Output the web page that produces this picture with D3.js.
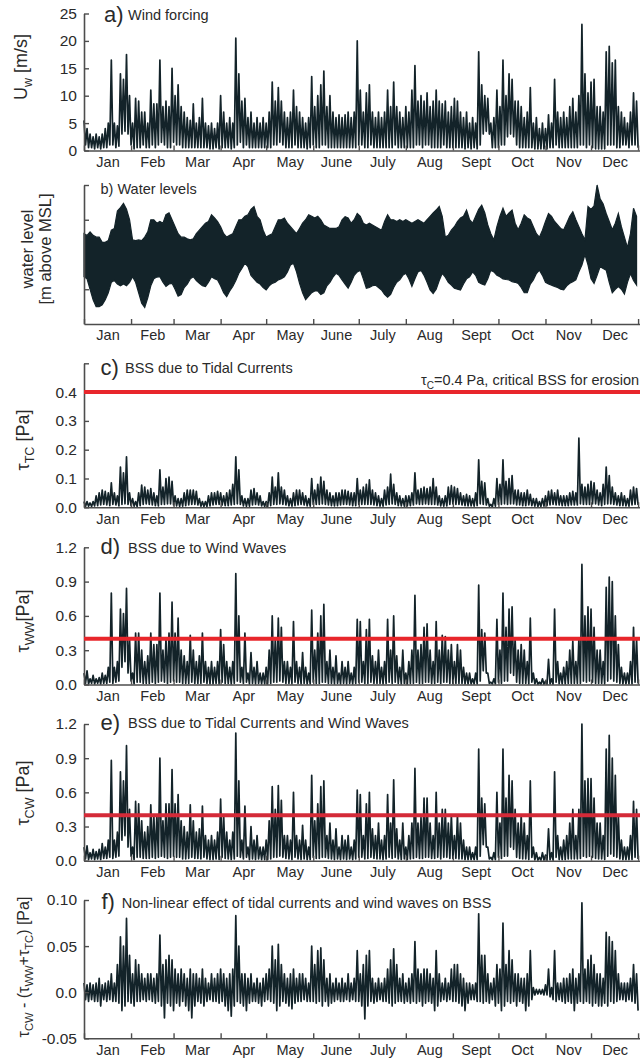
<!DOCTYPE html>
<html><head><meta charset="utf-8">
<script src="https://cdn.jsdelivr.net/npm/d3@7"></script>
<style>
body{margin:0;background:#fff}
svg{display:block}
text{font-family:"Liberation Sans",Arial,Helvetica,sans-serif}
</style>
</head><body>
<svg id="chart" width="640" height="1064"></svg>
<script>
// ---------- categories / ticks ----------
const monthStarts=[0,31,59,90,120,151,181,212,243,273,304,334,365];
const monthLabels=["Jan","Feb","Mar","Apr","May","June","July","Aug","Sept","Oct","Nov","Dec"];
const windTicks=[0,5,10,15,20,25];
const windTickLabels=["0","5","10","15","20","25"];
const waterTicks=[-1,1,2];
const tcTicks=[0,0.1,0.2,0.3,0.4,0.5];
const tcTickLabels=["0.0","0.1","0.2","0.3","0.4",""];
const wwTicks=[0,0.3,0.6,0.9,1.2];
const wwTickLabels=["0.0","0.3","0.6","0.9","1.2"];
const nlTicks=[-0.05,0,0.05,0.1];
const nlTickLabels=["-0.05","0.0","0.05","0.10"];
const criticalBSS=0.4;

// ---------- series (2-day bins: upper / lower values) ----------
const windHi=[5.5,4,3,2.5,3,2.5,3,4,5,16.5,
5,4.5,14,13,17.5,10,5,9.5,9,7,
7,5,11,8.5,8.5,16.5,8,9,8,15,
10,12,8,7,6,5.5,8.5,5,6,9.5,
5,4.5,5,4,5,10,7,5,6,5,
20.5,14,9,9.5,6,7,5,6,5,6,
5,7,12.5,9,11.5,9,7,6,7,11,
8,7,6,5,6,13.5,8,10,12,14.5,
8,10,7,6,6.5,6,6.5,7,6,7,
20,11,7,10.5,12,7,6,7,6,7,
11,8,12.5,8,7,6,8,7,11,15.5,
9,10,9,10.5,8,9,11,9,8.5,9,
7,8,9.5,9,7,6,7,5,6,5,
18,12,10,9.5,5,6,11,8,16.5,10,
14,13,9,9,8,6,7,11.5,5,6,
4,5,4,6.5,5,13,7,6,7,6,
8,9.5,7,10,23,14,10.5,12.5,13,8,
8,7,18,19,16,16.5,8,7,6,5,
7,10.5,9];
const windLo=[1,0.5,0.5,0.3,0.5,0.3,0.5,0.5,1,1,
0.5,0.8,3,3.5,3,1,0.3,0.5,0.5,1,
0.5,0.5,1,0.5,1,1.5,1,0.5,0.5,1.5,
1,1,0.5,0.5,0.5,0.5,0.5,0.5,0.5,0.5,
0.5,0.3,0.3,0.5,0.3,0.5,0.5,0.5,0.3,0.5,
1,1.5,0.5,1,0.5,0.5,0.5,0.5,0.5,0.5,
0.5,0.5,1,1,1.5,1,0.5,0.5,0.5,1,
0.5,0.5,0.5,0.3,0.5,1,0.5,0.5,1,1,
0.5,0.5,0.5,0.5,0.5,0.5,0.5,0.5,0.5,0.5,
1,1,0.5,0.5,1,0.5,0.5,0.5,0.5,0.5,
0.5,0.5,1,0.5,0.5,0.5,0.5,0.5,0.5,1,
1,0.5,1,1,0.5,0.5,0.5,0.5,1,0.5,
0.5,0.5,0.5,0.5,0.5,0.3,0.5,0.3,0.5,0.3,
1,3,3.5,3,0.5,0.5,0.5,1,1,2.5,
3,2.5,1,0.5,0.5,0.5,0.5,0.5,0.3,0.3,
0.3,0.3,0.3,0.5,0.5,1,0.5,0.5,0.5,0.5,
0.5,0.5,0.5,1,1,0.5,1,0.5,0.3,0.3,
0.3,0.3,1,1,1,0.5,0.5,1,1,0.5,
1,1,0.5];

const waterHi=[0.6,0.55,0.65,0.55,0.5,0.5,0.35,0.35,0.4,0.7,
0.75,1.25,1.35,1.47,1.3,1.0,0.42,0.4,0.42,0.4,
0.5,0.65,1.0,1.0,0.9,0.95,0.9,1.15,1.2,1.0,
0.8,0.6,0.5,0.5,0.45,0.42,0.45,0.6,0.7,0.8,
0.9,0.95,1.14,1.05,0.95,0.8,0.6,0.5,0.55,0.6,
0.8,1.0,1.0,1.1,1.14,1.3,1.38,1.1,1.0,0.7,
0.5,0.55,0.6,0.8,1.0,1.0,1.05,0.9,0.8,0.7,
0.6,0.75,0.9,1.0,1.14,1.1,1.05,1.1,1.0,0.85,
0.8,0.75,0.75,0.75,0.8,1.0,1.09,1.05,0.9,1.0,
1.18,1.1,0.9,0.85,0.9,0.85,0.8,0.75,0.7,0.95,
1.14,1.0,1.0,0.95,1.0,0.95,1.0,0.95,0.9,0.95,
1.0,0.95,0.9,1.0,1.1,1.2,1.28,1.38,1.1,0.5,
0.55,0.7,0.8,0.95,1.05,1.1,1.28,1.0,0.9,1.1,
1.3,1.42,1.2,0.85,0.6,0.42,0.8,1.1,1.33,1.1,
1.2,1.28,0.9,0.71,0.9,1.14,1.05,1.0,0.8,0.6,
0.5,0.7,0.95,1.18,1.1,0.95,0.85,0.75,0.71,0.9,
1.1,1.23,1.0,0.8,0.6,0.42,1.38,1.3,1.4,2.0,
1.6,1.45,1.18,0.95,0.71,0.9,1.18,0.8,0.5,0.2,
0.6,1.33,1.1];
const waterLo=[-0.64,-0.7,-1.0,-1.3,-1.5,-1.5,-1.45,-1.3,-1.1,-0.8,
-0.75,-0.85,-0.9,-0.85,-0.9,-0.8,-0.64,-0.8,-1.1,-1.4,
-1.52,-1.25,-0.9,-0.7,-0.65,-0.64,-0.8,-0.92,-0.85,-0.83,
-1.0,-1.2,-1.15,-0.95,-0.85,-0.7,-0.64,-0.75,-0.83,-0.9,
-0.92,-0.8,-0.64,-0.7,-0.73,-0.9,-1.1,-1.21,-1.05,-0.92,
-0.75,-0.54,-0.4,-0.25,-0.35,-0.6,-0.7,-0.8,-0.85,-0.95,
-1.02,-0.9,-0.83,-0.8,-0.73,-0.7,-0.64,-0.5,-0.3,-0.25,
-0.5,-0.83,-1.1,-1.3,-1.2,-1.1,-1.05,-1.05,-1.15,-1.1,
-0.9,-0.8,-0.65,-0.54,-0.6,-0.73,-0.85,-0.97,-0.8,-0.6,
-0.5,-0.45,-0.7,-0.97,-0.95,-0.9,-0.88,-0.95,-1.02,-1.15,
-1.23,-1.15,-0.95,-0.8,-0.73,-0.6,-0.54,-0.7,-0.92,-0.7,
-0.5,-0.45,-0.6,-0.8,-1.02,-1.12,-1.0,-0.75,-0.54,-0.65,
-0.8,-0.88,-0.97,-1.0,-1.02,-0.85,-0.7,-0.64,-0.5,-0.6,
-0.8,-0.85,-0.88,-0.7,-0.45,-0.5,-0.6,-0.64,-0.7,-0.72,
-0.73,-0.78,-0.8,-0.83,-0.95,-1.1,-1.1,-0.85,-0.73,-0.55,
-0.45,-0.6,-0.8,-0.85,-0.88,-0.92,-0.95,-1.0,-1.02,-0.9,
-0.83,-0.78,-0.73,-0.5,-0.3,0.0,-0.3,-0.7,-0.83,-0.6,
-0.35,-0.4,-0.45,-0.8,-1.1,-1.0,-0.92,-1.0,-1.14,-0.8,
-0.55,-0.75,-0.88];

const tidalHi=[0.02,0.02,0.015,0.02,0.04,0.05,0.06,0.055,0.05,0.085,
0.05,0.04,0.14,0.12,0.175,0.05,0.03,0.02,0.05,0.077,
0.07,0.06,0.065,0.05,0.04,0.13,0.07,0.1,0.105,0.09,
0.04,0.03,0.03,0.05,0.06,0.06,0.06,0.055,0.03,0.02,
0.02,0.04,0.05,0.05,0.055,0.05,0.04,0.05,0.06,0.08,
0.175,0.13,0.04,0.03,0.03,0.06,0.065,0.05,0.04,0.02,
0.02,0.05,0.105,0.07,0.12,0.07,0.06,0.04,0.03,0.05,
0.06,0.06,0.05,0.04,0.03,0.1,0.06,0.08,0.105,0.09,
0.06,0.05,0.04,0.05,0.05,0.06,0.06,0.055,0.05,0.05,
0.1,0.06,0.07,0.08,0.095,0.06,0.05,0.04,0.03,0.06,
0.07,0.115,0.08,0.05,0.04,0.03,0.04,0.04,0.05,0.12,
0.06,0.065,0.07,0.065,0.07,0.1,0.07,0.04,0.03,0.04,
0.07,0.075,0.07,0.065,0.05,0.04,0.045,0.04,0.03,0.05,
0.165,0.09,0.085,0.03,0.01,0.03,0.1,0.08,0.165,0.09,
0.1,0.11,0.06,0.06,0.05,0.05,0.06,0.045,0.03,0.03,
0.02,0.03,0.04,0.055,0.06,0.05,0.06,0.04,0.04,0.04,
0.05,0.055,0.05,0.24,0.08,0.07,0.08,0.09,0.085,0.06,
0.05,0.08,0.14,0.11,0.07,0.05,0.04,0.05,0.04,0.03,
0.06,0.07,0.065];
const tidalLo=[0.003,0.004,0.003,0.005,0.006,0.008,0.01,0.008,0.006,0.01,
0.008,0.005,0.01,0.012,0.01,0.006,0.004,0.003,0.006,0.01,
0.012,0.01,0.008,0.006,0.005,0.01,0.01,0.012,0.012,0.008,
0.005,0.003,0.004,0.006,0.008,0.01,0.01,0.008,0.004,0.003,
0.003,0.005,0.008,0.01,0.01,0.008,0.006,0.006,0.008,0.01,
0.012,0.01,0.005,0.003,0.004,0.008,0.01,0.008,0.005,0.003,
0.003,0.006,0.01,0.01,0.012,0.01,0.008,0.005,0.004,0.006,
0.008,0.01,0.008,0.005,0.004,0.01,0.01,0.01,0.012,0.01,
0.008,0.006,0.005,0.006,0.008,0.01,0.01,0.008,0.006,0.006,
0.01,0.01,0.01,0.01,0.01,0.008,0.006,0.004,0.004,0.008,
0.01,0.012,0.01,0.006,0.005,0.004,0.005,0.006,0.008,0.012,
0.01,0.01,0.012,0.01,0.01,0.01,0.008,0.005,0.004,0.005,
0.01,0.012,0.01,0.01,0.008,0.006,0.005,0.005,0.004,0.006,
0.012,0.01,0.008,0.004,0.002,0.004,0.01,0.01,0.012,0.01,
0.012,0.012,0.008,0.008,0.006,0.006,0.008,0.006,0.004,0.003,
0.003,0.004,0.006,0.008,0.01,0.008,0.008,0.006,0.006,0.006,
0.008,0.008,0.008,0.012,0.01,0.01,0.01,0.012,0.012,0.008,
0.006,0.01,0.012,0.012,0.01,0.008,0.006,0.006,0.005,0.004,
0.008,0.01,0.008];

const wavesHi=[0.1,0.12,0.05,0.08,0.05,0.06,0.1,0.08,0.15,0.8,
0.15,0.2,0.66,0.62,0.84,0.4,0.1,0.45,0.45,0.3,
0.2,0.25,0.45,0.35,0.35,0.8,0.3,0.4,0.45,0.72,
0.45,0.58,0.3,0.25,0.2,0.43,0.3,0.2,0.25,0.45,
0.2,0.15,0.2,0.15,0.2,0.48,0.35,0.2,0.15,0.2,
0.97,0.6,0.15,0.45,0.1,0.28,0.15,0.2,0.1,0.1,
0.15,0.3,0.6,0.4,0.58,0.5,0.2,0.2,0.15,0.55,
0.2,0.15,0.28,0.15,0.1,0.65,0.3,0.45,0.6,0.7,
0.2,0.3,0.15,0.25,0.1,0.2,0.15,0.2,0.1,0.15,
0.57,0.55,0.2,0.48,0.57,0.25,0.2,0.3,0.15,0.2,
0.57,0.3,0.6,0.25,0.15,0.3,0.1,0.2,0.3,0.78,
0.3,0.35,0.5,0.53,0.3,0.2,0.55,0.3,0.43,0.42,
0.3,0.35,0.2,0.35,0.3,0.15,0.1,0.1,0.05,0.1,
0.87,0.48,0.45,0.1,0.02,0.05,0.57,0.3,0.8,0.5,
0.66,0.68,0.4,0.3,0.35,0.3,0.2,0.58,0.1,0.05,
0.02,0.05,0.03,0.22,0.05,0.66,0.2,0.1,0.15,0.2,
0.3,0.38,0.2,0.4,1.05,0.6,0.68,0.66,0.5,0.3,
0.3,0.2,0.85,0.94,0.9,0.6,0.35,0.15,0.1,0.1,
0.2,0.5,0.4];
const wavesLo=[0.01,0.005,0.01,0.005,0.01,0.005,0.01,0.01,0.02,0.01,
0.02,0.03,0.15,0.2,0.1,0.03,0.005,0.02,0.02,0.01,
0.01,0.01,0.02,0.01,0.02,0.03,0.02,0.01,0.02,0.03,
0.02,0.02,0.01,0.01,0.01,0.02,0.01,0.01,0.01,0.02,
0.01,0.005,0.005,0.01,0.005,0.02,0.01,0.01,0.005,0.01,
0.03,0.02,0.01,0.02,0.005,0.01,0.005,0.01,0.005,0.005,
0.005,0.01,0.02,0.02,0.03,0.02,0.01,0.01,0.005,0.02,
0.01,0.005,0.01,0.005,0.005,0.02,0.01,0.01,0.02,0.02,
0.01,0.01,0.005,0.01,0.005,0.01,0.005,0.01,0.005,0.01,
0.02,0.02,0.01,0.01,0.02,0.01,0.01,0.01,0.005,0.01,
0.02,0.01,0.02,0.01,0.005,0.01,0.005,0.01,0.01,0.02,
0.01,0.01,0.02,0.02,0.01,0.01,0.02,0.01,0.02,0.02,
0.01,0.01,0.01,0.01,0.01,0.005,0.005,0.005,0.005,0.005,
0.03,0.12,0.1,0.01,0.005,0.005,0.02,0.01,0.03,0.03,
0.1,0.08,0.02,0.01,0.01,0.01,0.005,0.02,0.005,0.003,
0.003,0.003,0.003,0.005,0.003,0.02,0.005,0.005,0.005,0.01,
0.01,0.01,0.01,0.01,0.03,0.02,0.03,0.02,0.01,0.01,
0.01,0.005,0.03,0.05,0.03,0.02,0.01,0.005,0.005,0.005,
0.005,0.02,0.01];

const combHi=[0.12,0.13,0.07,0.1,0.08,0.1,0.15,0.12,0.18,0.88,
0.18,0.25,0.78,0.7,1.01,0.45,0.12,0.52,0.5,0.35,
0.25,0.3,0.49,0.4,0.4,0.9,0.35,0.5,0.5,0.8,
0.5,0.58,0.35,0.3,0.25,0.49,0.35,0.25,0.28,0.48,
0.22,0.18,0.22,0.18,0.25,0.54,0.4,0.25,0.18,0.25,
1.12,0.7,0.18,0.48,0.12,0.3,0.18,0.22,0.12,0.12,
0.18,0.35,0.65,0.45,0.66,0.53,0.22,0.22,0.18,0.6,
0.22,0.18,0.31,0.18,0.12,0.75,0.35,0.5,0.65,0.7,
0.22,0.33,0.18,0.28,0.12,0.22,0.18,0.22,0.12,0.18,
0.62,0.58,0.22,0.5,0.6,0.28,0.22,0.33,0.18,0.22,
0.58,0.33,0.71,0.28,0.18,0.33,0.12,0.22,0.33,0.81,
0.33,0.38,0.55,0.55,0.33,0.22,0.6,0.33,0.45,0.45,
0.33,0.4,0.22,0.4,0.33,0.18,0.12,0.12,0.07,0.12,
0.98,0.55,0.5,0.12,0.03,0.07,0.6,0.33,0.98,0.55,
0.75,0.7,0.45,0.33,0.4,0.33,0.22,0.7,0.12,0.07,
0.03,0.07,0.05,0.28,0.07,0.78,0.22,0.12,0.18,0.22,
0.33,0.45,0.22,0.45,1.2,0.7,0.72,0.72,0.55,0.33,
0.33,0.22,0.98,1.1,0.9,0.75,0.4,0.18,0.12,0.12,
0.22,0.52,0.45];
const combLo=[0.015,0.01,0.015,0.01,0.015,0.01,0.02,0.02,0.03,0.02,
0.03,0.04,0.18,0.22,0.12,0.04,0.01,0.03,0.03,0.02,
0.02,0.02,0.03,0.02,0.03,0.04,0.03,0.02,0.03,0.04,
0.03,0.03,0.015,0.015,0.02,0.03,0.02,0.02,0.015,0.03,
0.015,0.01,0.01,0.015,0.01,0.03,0.02,0.015,0.01,0.015,
0.04,0.03,0.015,0.03,0.01,0.015,0.01,0.015,0.01,0.01,
0.01,0.015,0.03,0.03,0.04,0.03,0.02,0.015,0.01,0.03,
0.015,0.01,0.015,0.01,0.01,0.03,0.02,0.02,0.03,0.03,
0.02,0.015,0.01,0.015,0.01,0.015,0.01,0.015,0.01,0.015,
0.03,0.03,0.015,0.02,0.03,0.02,0.015,0.015,0.01,0.015,
0.03,0.02,0.03,0.015,0.01,0.015,0.01,0.015,0.02,0.03,
0.02,0.02,0.03,0.03,0.02,0.02,0.03,0.015,0.03,0.03,
0.02,0.02,0.02,0.015,0.015,0.01,0.01,0.01,0.01,0.01,
0.04,0.14,0.12,0.015,0.008,0.01,0.03,0.02,0.04,0.04,
0.12,0.1,0.03,0.02,0.015,0.015,0.01,0.03,0.008,0.005,
0.005,0.005,0.005,0.008,0.005,0.03,0.01,0.01,0.01,0.015,
0.015,0.015,0.015,0.02,0.04,0.03,0.04,0.03,0.02,0.015,
0.015,0.01,0.04,0.06,0.04,0.03,0.015,0.01,0.01,0.01,
0.01,0.03,0.015];

const nonlinHi=[0.01,0.008,0.01,0.008,0.01,0.015,0.008,0.01,0.012,0.02,
0.01,0.03,0.06,0.05,0.08,0.04,0.02,0.035,0.03,0.02,
0.015,0.02,0.02,0.015,0.02,0.062,0.03,0.035,0.04,0.035,
0.025,0.02,0.025,0.02,0.015,0.025,0.02,0.02,0.015,0.025,
0.015,0.01,0.02,0.015,0.02,0.025,0.02,0.015,0.02,0.025,
0.083,0.05,0.02,0.02,0.015,0.02,0.01,0.015,0.01,0.015,
0.02,0.025,0.05,0.035,0.052,0.03,0.02,0.015,0.02,0.025,
0.015,0.02,0.02,0.015,0.01,0.05,0.03,0.045,0.048,0.035,
0.015,0.02,0.01,0.015,0.01,0.015,0.01,0.02,0.01,0.015,
0.045,0.02,0.03,0.04,0.045,0.015,0.01,0.015,0.01,0.015,
0.025,0.035,0.047,0.03,0.015,0.02,0.01,0.015,0.02,0.055,
0.025,0.02,0.025,0.025,0.02,0.015,0.045,0.02,0.01,0.015,
0.01,0.025,0.03,0.03,0.02,0.015,0.01,0.01,0.008,0.01,
0.085,0.04,0.04,0.02,0.01,0.015,0.03,0.025,0.075,0.03,
0.045,0.035,0.02,0.02,0.015,0.015,0.02,0.045,0.005,0.003,
0.003,0.003,0.008,0.025,0.005,0.045,0.01,0.01,0.015,0.015,
0.02,0.025,0.015,0.02,0.097,0.025,0.035,0.04,0.03,0.02,
0.02,0.015,0.065,0.06,0.055,0.045,0.02,0.01,0.01,0.01,
0.015,0.03,0.02];
const nonlinLo=[-0.008,-0.01,-0.008,-0.01,-0.01,-0.015,-0.008,-0.01,-0.008,-0.01,
-0.01,-0.012,-0.02,-0.015,-0.01,-0.012,-0.015,-0.01,-0.01,-0.008,
-0.01,-0.008,-0.01,-0.012,-0.01,-0.015,-0.028,-0.012,-0.015,-0.02,
-0.012,-0.015,-0.01,-0.015,-0.02,-0.028,-0.015,-0.01,-0.012,-0.015,
-0.01,-0.008,-0.01,-0.01,-0.012,-0.01,-0.015,-0.02,-0.026,-0.015,
-0.01,-0.012,-0.015,-0.02,-0.012,-0.01,-0.01,-0.012,-0.015,-0.01,
-0.008,-0.01,-0.012,-0.02,-0.015,-0.01,-0.012,-0.015,-0.018,-0.012,
-0.01,-0.01,-0.008,-0.01,-0.01,-0.01,-0.012,-0.01,-0.015,-0.01,
-0.015,-0.012,-0.01,-0.008,-0.01,-0.01,-0.008,-0.01,-0.008,-0.01,
-0.01,-0.015,-0.029,-0.015,-0.01,-0.012,-0.01,-0.008,-0.01,-0.01,
-0.012,-0.015,-0.012,-0.01,-0.01,-0.012,-0.01,-0.012,-0.01,-0.012,
-0.01,-0.015,-0.012,-0.01,-0.012,-0.02,-0.015,-0.01,-0.008,-0.01,
-0.008,-0.01,-0.01,-0.012,-0.015,-0.02,-0.012,-0.008,-0.008,-0.01,
-0.01,-0.012,-0.01,-0.012,-0.008,-0.015,-0.012,-0.02,-0.015,-0.01,
-0.012,-0.01,-0.015,-0.01,-0.012,-0.02,-0.015,-0.008,-0.003,-0.002,
-0.002,-0.003,-0.003,-0.005,-0.008,-0.01,-0.008,-0.01,-0.012,-0.01,
-0.012,-0.02,-0.012,-0.01,-0.012,-0.01,-0.012,-0.015,-0.012,-0.015,
-0.015,-0.012,-0.015,-0.01,-0.012,-0.01,-0.008,-0.008,-0.01,-0.008,
-0.01,-0.012,-0.02];

// ---------- drawing ----------
const svg=d3.select("#chart");
const INK="#132329", AXIS="#4d4d4d", TXT="#2a2a2a", RED="#e8262b";
const x=d3.scaleLinear().domain([0,366]).range([84,639.6]);
const monthMids=monthStarts.slice(0,12).map((s,i)=>(s+monthStarts[i+1])/2);

function zig(hi,lo){const p=[];hi.forEach((h,i)=>{p.push([2*i,h]);p.push([2*i+1,lo[i]]);});return p;}

function panelFrame(y,ticks,labels){
  const g=svg.append("g");
  const ya=d3.axisLeft(y).tickValues(ticks).tickSize(-5).tickSizeOuter(0).tickPadding(7)
    .tickFormat((d,i)=>labels?labels[i]:"");
  const gy=g.append("g").attr("transform","translate(84,0)").call(ya);
  const xb=d3.axisBottom(x).tickValues(monthStarts).tickSize(-5).tickSizeOuter(0).tickFormat("");
  const gx=g.append("g").attr("transform",`translate(0,${y.range()[0]})`).call(xb);
  const xl=d3.axisBottom(x).tickValues(monthMids).tickSize(0).tickPadding(6).tickFormat((d,i)=>monthLabels[i]);
  const gl=g.append("g").attr("transform",`translate(0,${y.range()[0]})`).call(xl);
  gl.select(".domain").remove();
  [gy,gx].forEach(a=>{a.select(".domain").attr("stroke",AXIS).attr("stroke-width",1.6);
    a.selectAll(".tick line").attr("stroke",AXIS).attr("stroke-width",1.4);});
  gy.selectAll("text").attr("font-size",15.5).attr("fill",TXT).attr("font-family",'"Liberation Sans",Arial,sans-serif');
  gl.selectAll("text").attr("font-size",14.5).attr("fill",TXT).attr("font-family",'"Liberation Sans",Arial,sans-serif');
  return g;
}
function drawZig(g,y,hi,lo){
  const line=d3.line().x(d=>x(d[0])).y(d=>y(d[1]));
  g.insert("path",":first-child").attr("d",line(zig(hi,lo))).attr("fill","none")
    .attr("stroke",INK).attr("stroke-width",1.7).attr("stroke-linejoin","round");
}
function redLine(g,y,col){
  g.append("line").attr("x1",84).attr("x2",640).attr("y1",y(criticalBSS)).attr("y2",y(criticalBSS))
   .attr("stroke",col).attr("stroke-width",4);
}
function title(g,xp,yb,big,rest,xr,yr){
  g.append("text").attr("x",xp).attr("y",yb).attr("font-size",22).attr("fill",TXT).text(big);
  if(rest) g.append("text").attr("x",xr).attr("y",yr).attr("font-size",14.5).attr("fill",TXT).text(rest);
}
function ytitle(cx,cy,parts,size){
  const t=svg.append("text").attr("transform",`translate(${cx},${cy}) rotate(-90)`)
    .attr("text-anchor","middle").attr("font-size",size).attr("fill",TXT);
  let shifted=false;
  parts.forEach(p=>{
    const ts=t.append("tspan").text(p.t);
    if(p.sub){ts.attr("font-size",size*0.7); if(!shifted){ts.attr("dy",size*0.25);shifted=true;}}
    else if(shifted){ts.attr("dy",-size*0.25);shifted=false;}
  });
  return t;
}

// a) wind
const yA=d3.scaleLinear().domain([0,25]).range([150.5,13.5]);
const gA=panelFrame(yA,windTicks,windTickLabels);
drawZig(gA,yA,windHi,windLo);
title(gA,104,21.5,"a)","Wind forcing",128,20);
ytitle(27,67,[{t:"U"},{t:"w",sub:1},{t:" [m/s]"}],18);

// b) water level
const yB=d3.scaleLinear().domain([-2,2]).range([324,185]);
const gB=panelFrame(yB,waterTicks,null);
const area=d3.area().x((d,i)=>x(2*i)).y0((d,i)=>yB(waterLo[i])).y1(d=>yB(d));
gB.insert("path",":first-child").attr("d",area(waterHi)).attr("fill",INK).attr("stroke",INK).attr("stroke-width",1.2);
gB.append("text").attr("x",100.5).attr("y",194).attr("font-size",14.5).attr("fill",TXT).text("b) Water levels");
const wt=svg.append("text").attr("transform","translate(33,249) rotate(-90)").attr("text-anchor","middle")
  .attr("font-size",16.5).attr("fill",TXT);
wt.append("tspan").attr("x",0).attr("dy",0).text("water level");
wt.append("tspan").attr("x",0).attr("dy",18).text("[m above MSL]");

// c) tidal currents
const yC=d3.scaleLinear().domain([0,0.5]).range([507.3,363.3]);
const gC=panelFrame(yC,tcTicks,tcTickLabels);
drawZig(gC,yC,tidalHi,tidalLo);
redLine(gC,yC,RED);
title(gC,100.5,375,"c)","BSS due to Tidal Currents",125,372.5);
const lbl=gC.append("text").attr("x",421).attr("y",385).attr("font-size",14.5).attr("fill",TXT);
lbl.append("tspan").text("τ");
lbl.append("tspan").attr("font-size",10).attr("dy",3.5).text("C");
lbl.append("tspan").attr("dy",-3.5).text("=0.4 Pa, critical BSS for erosion");
ytitle(29,440,[{t:"τ"},{t:"TC",sub:1},{t:" [Pa]"}],18);

// d) wind waves
const yD=d3.scaleLinear().domain([0,1.2]).range([684.5,547.3]);
const gD=panelFrame(yD,wwTicks,wwTickLabels);
drawZig(gD,yD,wavesHi,wavesLo);
redLine(gD,yD,RED);
title(gD,100.5,554,"d)","BSS due to Wind Waves",128,553);
ytitle(29,621,[{t:"τ"},{t:"WW",sub:1},{t:"[Pa]"}],18);

// e) combined
const yE=d3.scaleLinear().domain([0,1.2]).range([860.7,724]);
const gE=panelFrame(yE,wwTicks,wwTickLabels);
drawZig(gE,yE,combHi,combLo);
redLine(gE,yE,"#d42a38");
title(gE,100.5,730,"e)","BSS due to Tidal Currents and Wind Waves",128,728);
ytitle(29,793,[{t:"τ"},{t:"CW",sub:1},{t:" [Pa]"}],18);

// f) non-linear
const yF=d3.scaleLinear().domain([-0.05,0.1]).range([1038.3,900]);
const gF=panelFrame(yF,nlTicks,nlTickLabels);
drawZig(gF,yF,nonlinHi,nonlinLo);
title(gF,101.5,908.5,"f)","Non-linear effect of tidal currents and wind waves on BSS",121.7,908);
ytitle(29,967,[{t:"τ"},{t:"CW",sub:1},{t:" - ("},{t:"τ"},{t:"WW",sub:1},{t:"+"},{t:"τ"},{t:"TC",sub:1},{t:") [Pa]"}],16);
</script>
</body></html>
